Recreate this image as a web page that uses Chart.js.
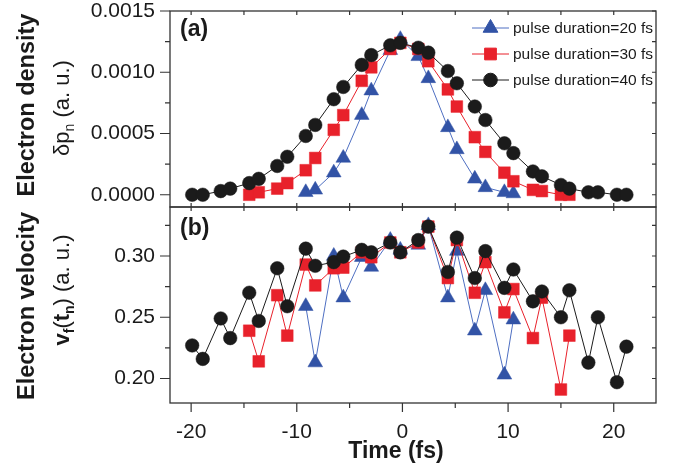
<!DOCTYPE html>
<html>
<head>
<meta charset="utf-8">
<script src="https://cdn.jsdelivr.net/npm/chart.js@4/dist/chart.umd.min.js"></script>
<style>
  html, body { margin: 0; padding: 0; background: #fff; }
</style>
</head>
<body>
<canvas id="pulseChart" width="673" height="470"></canvas>
<script>
// time grid of each pulse duration (fs)
const time20 = [-9.15, -8.25, -6.5, -5.6, -3.85, -2.95, -1.15, -0.2, 1.5, 2.45, 4.3, 5.15, 6.85, 7.85, 9.65, 10.5];
const time30 = [-14.5, -13.6, -11.85, -10.9, -9.15, -8.25, -6.5, -5.6, -3.85, -2.95, -1.15, -0.2,
                1.5, 2.45, 4.3, 5.15, 6.85, 7.85, 9.65, 10.5, 12.35, 13.2, 15.0, 15.8];
const time40 = [-19.9, -18.9, -17.2, -16.3, -14.5, -13.6, -11.85, -10.9, -9.15, -8.25, -6.5, -5.6,
                -3.85, -2.95, -1.15, -0.2, 1.5, 2.45, 4.3, 5.15, 6.85, 7.85, 9.65, 10.5,
                12.35, 13.2, 15.0, 15.8, 17.6, 18.5, 20.3, 21.2];

// (a) electron density
const density20 = [0.00002, 0.00004, 0.00018, 0.0003, 0.00065, 0.00085, 0.00118, 0.00127,
                   0.00113, 0.00095, 0.00055, 0.00037, 0.00013, 0.00006, 0.00002, 0.00001];
const density30 = [0, 0.00002, 0.00005, 0.000095, 0.0002, 0.0003, 0.00053, 0.00065, 0.00093, 0.00104, 0.00119, 0.00124,
                   0.00119, 0.00109, 0.00086, 0.00072, 0.00047, 0.00035, 0.00018, 0.00011, 0.00004, 0.00003, 0, 0];
const density40 = [0, 0, 0.00003, 0.00005, 0.000095, 0.00013, 0.000235, 0.00031, 0.00048, 0.00057, 0.00078, 0.00088,
                   0.00106, 0.00114, 0.00122, 0.00124, 0.0012, 0.00116, 0.00101, 0.00091, 0.00072, 0.00061, 0.00042, 0.00034,
                   0.00019, 0.00015, 0.00008, 0.00005, 0.00002, 0.00002, 0, 0];

// (b) electron velocity
const velocity20 = [0.259, 0.213, 0.300, 0.266, 0.299, 0.291, 0.313, 0.305,
                    0.309, 0.325, 0.266, 0.304, 0.239, 0.272, 0.203, 0.248];
const velocity30 = [0.239, 0.214, 0.268, 0.235, 0.293, 0.276, 0.290, 0.2905, 0.303, 0.299, 0.311, 0.303,
                    0.311, 0.324, 0.282, 0.313, 0.270, 0.295, 0.254, 0.273, 0.233, 0.266, 0.191, 0.235];
const velocity40 = [0.227, 0.216, 0.249, 0.233, 0.270, 0.247, 0.290, 0.259, 0.306, 0.292, 0.295, 0.2995,
                    0.305, 0.303, 0.311, 0.303, 0.313, 0.324, 0.287, 0.315, 0.282, 0.304, 0.274, 0.289,
                    0.263, 0.271, 0.250, 0.272, 0.213, 0.250, 0.197, 0.226];

const seriesLabels = ['pulse duration=20 fs', 'pulse duration=30 fs', 'pulse duration=40 fs'];

// ticks (every other one carries a label)
const timeTicks = [-20, -15, -10, -5, 0, 5, 10, 15, 20];
const densityTicks = [0, 0.00025, 0.0005, 0.00075, 0.001, 0.00125, 0.0015];
const velocityTicks = [0.2, 0.225, 0.25, 0.275, 0.3, 0.325];

const FONT = '"Liberation Sans", Arial, sans-serif';
const BLUE = '#3253a6';
const RED = '#e8212b';
const BLACK = '#1b1b1b';

// frame of the two panels, in canvas pixels
const FRAME = { left: 170, right: 656, top: 11, mid: 207, bottom: 403 };

const styles = [
    { color: BLUE, line: '#4e6fc2', pointStyle: 'triangle', radius: 8.5, order: 2 },
    { color: RED, line: RED, pointStyle: 'rect', radius: 8.3, order: 1 },
    { color: BLACK, line: BLACK, pointStyle: 'circle', radius: 6.8, order: 0 }
];

function toPoints(times, values) {
    return times.map((t, i) => ({ x: t, y: values[i] }));
}

function makeDataset(idx, times, values, axis) {
    const s = styles[idx];
    return {
        label: seriesLabels[idx],
        data: toPoints(times, values),
        yAxisID: axis,
        borderColor: s.line,
        backgroundColor: s.color,
        borderWidth: 1,
        pointStyle: s.pointStyle,
        pointRadius: s.radius,
        pointBackgroundColor: s.color,
        pointBorderColor: s.color,
        pointBorderWidth: 0.5,
        tension: 0,
        order: s.order
    };
}

function fixedTicks(values) {
    return function(scale) {
        scale.ticks = values.map(v => ({ value: v }));
    };
}

function placeBox(box, left, top, right, bottom) {
    box.left = left; box.right = right; box.width = right - left;
    box.top = top; box.bottom = bottom; box.height = bottom - top;
    box.configure();
}

// rotated multi-font label, centred on cy, baseline at x
function drawRotated(ctx, parts, x, cy) {
    let total = 0;
    parts.forEach(p => { ctx.font = p[1]; total += ctx.measureText(p[0]).width; });
    ctx.save();
    ctx.translate(x, cy);
    ctx.rotate(-Math.PI / 2);
    ctx.textBaseline = 'alphabetic';
    ctx.textAlign = 'left';
    let pos = -total / 2;
    parts.forEach(p => {
        ctx.font = p[1];
        ctx.fillText(p[0], pos, p[2]);
        pos += ctx.measureText(p[0]).width;
    });
    ctx.restore();
}

// pin both panels and the time axis to the reference frame
const fixedFrame = {
    id: 'fixedFrame',
    afterLayout(chart) {
        const s = chart.scales;
        const area = chart.chartArea;
        area.left = FRAME.left; area.right = FRAME.right;
        area.top = FRAME.top; area.bottom = FRAME.bottom;
        area.width = FRAME.right - FRAME.left;
        area.height = FRAME.bottom - FRAME.top;
        placeBox(s.yTop, 0, FRAME.top, FRAME.left, FRAME.mid);
        placeBox(s.yBot, 0, FRAME.mid, FRAME.left, FRAME.bottom);
        placeBox(s.x, FRAME.left, FRAME.bottom, FRAME.right, chart.height);
    }
};

const decorations = {
    id: 'decorations',
    afterDraw(chart) {
        const { ctx, scales } = chart;
        const xs = scales.x;
        const left = FRAME.left;
        const right = FRAME.right;

        ctx.save();
        ctx.strokeStyle = '#333';
        ctx.lineWidth = 1.3;

        // panel frames
        ctx.strokeRect(left, FRAME.top, right - left, FRAME.mid - FRAME.top);
        ctx.strokeRect(left, FRAME.mid, right - left, FRAME.bottom - FRAME.mid);

        ctx.lineWidth = 1.2;
        ctx.beginPath();
        // y ticks: outward on the left, inward on the right
        [[scales.yTop, densityTicks], [scales.yBot, velocityTicks]].forEach(([s, vals]) => {
            vals.forEach((v, i) => {
                const y = s.getPixelForValue(v);
                const len = i % 2 === 0 ? 10 : 5;
                ctx.moveTo(left - len, y); ctx.lineTo(left, y);
                ctx.moveTo(right, y); ctx.lineTo(right - 4, y);
            });
        });
        // x ticks on the bottom axis, the divider and the top edge
        timeTicks.forEach((v, i) => {
            const x = xs.getPixelForValue(v);
            const major = i % 2 === 0;
            ctx.moveTo(x, FRAME.bottom); ctx.lineTo(x, FRAME.bottom + (major ? 9 : 5));
            ctx.moveTo(x, FRAME.mid - 4); ctx.lineTo(x, FRAME.mid + 4);
            ctx.moveTo(x, FRAME.top); ctx.lineTo(x, FRAME.top + 4);
        });
        ctx.stroke();

        ctx.fillStyle = '#1a1a1a';
        ctx.textBaseline = 'alphabetic';

        // panel tags
        ctx.font = 'bold 23px ' + FONT;
        ctx.textAlign = 'left';
        ctx.fillText('(a)', left + 10, FRAME.top + 25);
        ctx.fillText('(b)', left + 10, FRAME.mid + 28);

        // x title
        ctx.textAlign = 'center';
        ctx.fillText('Time (fs)', 396, 458);

        // y titles
        const bold = 'bold 23.5px ' + FONT;
        const reg = '22px ' + FONT;
        const boldL = 'bold 22px ' + FONT;
        const sub = '14px ' + FONT;
        const subB = 'bold 14px ' + FONT;
        drawRotated(ctx, [['Electron density', bold, 0]], 34, 105);
        drawRotated(ctx, [['δp', reg, 0], ['n', sub, 5], [' (a. u.)', reg, 0]], 69, 108);
        drawRotated(ctx, [['Electron velocity', bold, 0]], 34, 306);
        drawRotated(ctx, [['v', boldL, 0], ['f', subB, 5], ['(', reg, 0], ['t', boldL, 0],
                          ['n', subB, 5], [') (a. u.)', reg, 0]], 69, 290);

        // legend
        const legendY = [28, 54, 80];
        styles.forEach((s, i) => {
            const y = legendY[i];
            ctx.strokeStyle = s.line;
            ctx.lineWidth = 1;
            ctx.beginPath();
            ctx.moveTo(472, y); ctx.lineTo(509, y);
            ctx.stroke();
            ctx.fillStyle = s.color;
            ctx.strokeStyle = s.color;
            Chart.helpers.drawPoint(ctx, { pointStyle: s.pointStyle, radius: s.radius, rotation: 0, borderWidth: 0.5 }, 490.5, y);
            ctx.fillStyle = '#1a1a1a';
            ctx.font = '15.5px ' + FONT;
            ctx.textAlign = 'left';
            ctx.textBaseline = 'middle';
            ctx.fillText(seriesLabels[i], 513, y + 1);
        });
        ctx.restore();
    }
};

const ctx = document.getElementById('pulseChart').getContext('2d');

new Chart(ctx, {
    type: 'line',
    data: {
        datasets: [
            makeDataset(0, time20, density20, 'yTop'),
            makeDataset(1, time30, density30, 'yTop'),
            makeDataset(2, time40, density40, 'yTop'),
            makeDataset(0, time20, velocity20, 'yBot'),
            makeDataset(1, time30, velocity30, 'yBot'),
            makeDataset(2, time40, velocity40, 'yBot')
        ]
    },
    options: {
        responsive: false,
        animation: false,
        events: [],
        layout: { padding: { top: 11, right: 17, left: 0, bottom: 0 } },
        plugins: {
            legend: { display: false },
            tooltip: { enabled: false }
        },
        scales: {
            x: {
                type: 'linear',
                min: -22,
                max: 24,
                afterBuildTicks: fixedTicks(timeTicks),
                afterFit: scale => { scale.height = 67; },
                grid: { display: false, drawTicks: false },
                border: { display: false },
                ticks: {
                    autoSkip: false,
                    maxRotation: 0,
                    padding: 19,
                    color: '#1a1a1a',
                    font: { family: FONT, size: 21, lineHeight: 1 },
                    callback: v => (v % 10 === 0 ? String(v) : '')
                }
            },
            // stacked panels: the first one listed is placed at the bottom
            yBot: {
                type: 'linear',
                position: 'left',
                stack: 'panels',
                stackWeight: 1,
                min: 0.18,
                max: 0.34,
                afterBuildTicks: fixedTicks(velocityTicks),
                afterFit: scale => { scale.width = 170; },
                grid: { display: false, drawTicks: false },
                border: { display: false },
                ticks: {
                    padding: 15,
                    color: '#1a1a1a',
                    font: { family: FONT, size: 21, lineHeight: 1 },
                    callback: (v, i) => (i % 2 === 0 ? v.toFixed(2) : '')
                }
            },
            yTop: {
                type: 'linear',
                position: 'left',
                stack: 'panels',
                stackWeight: 1,
                min: -0.0001,
                max: 0.0015,
                afterBuildTicks: fixedTicks(densityTicks),
                afterFit: scale => { scale.width = 170; },
                grid: { display: false, drawTicks: false },
                border: { display: false },
                ticks: {
                    padding: 15,
                    color: '#1a1a1a',
                    font: { family: FONT, size: 21, lineHeight: 1 },
                    callback: (v, i) => (i % 2 === 0 ? v.toFixed(4) : '')
                }
            }
        }
    },
    plugins: [fixedFrame, decorations]
});
</script>
</body>
</html>
